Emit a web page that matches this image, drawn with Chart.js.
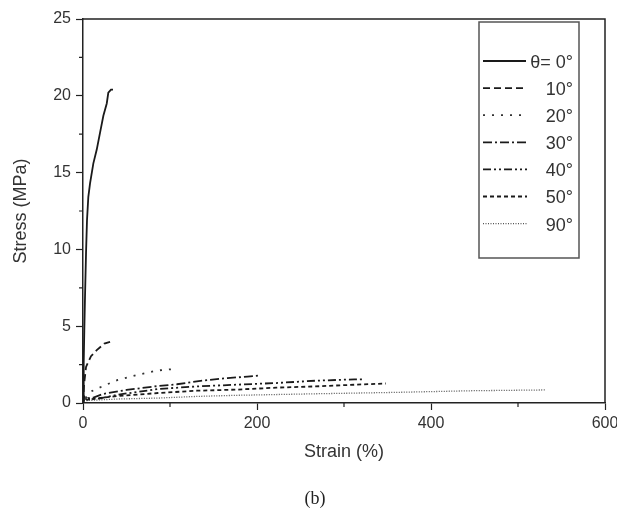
<!DOCTYPE html>
<html>
<head>
<meta charset="utf-8">
<script src="https://cdn.jsdelivr.net/npm/chart.js@4.4.1/dist/chart.umd.min.js"></script>
<style>
  body { margin: 0; background: #fff; }
</style>
</head>
<body>
<canvas id="stressChart" width="617" height="510"></canvas>
<script>
// stress-strain curves
const labels = ['θ= 0°', '10°', '20°', '30°', '40°', '50°', '90°'];

const strain0 = [0, 0.8, 1.5, 2.3, 3.5, 4.6, 6.1, 8.1, 11.9, 15.8, 19.6, 23.4, 27.3, 29.1, 32.2, 34.5];
const stress0 = [0, 2.6, 4.7, 6.9, 9.8, 11.9, 13.4, 14.3, 15.6, 16.5, 17.6, 18.7, 19.5, 20.2, 20.4, 20.4];

const strain10 = [0, 1.2, 3.5, 9.2, 15.8, 24.5, 31.1];
const stress10 = [0, 1.2, 2.35, 3.05, 3.44, 3.87, 3.98];

const strain20 = [0, 1, 4, 10, 22, 40, 63, 86, 108];
const stress20 = [0, 0.45, 0.35, 0.77, 1.08, 1.5, 1.84, 2.12, 2.23];

const strain30 = [0, 1, 3, 12, 23, 50, 81, 108, 135, 166, 189, 204];
const stress30 = [0, 0.45, 0.3, 0.35, 0.59, 0.85, 1.07, 1.22, 1.44, 1.62, 1.72, 1.79];

const strain40 = [0, 1, 5, 20, 40, 86, 131, 176, 222, 267, 312, 324];
const stress40 = [0, 0.4, 0.25, 0.3, 0.54, 0.91, 1.08, 1.19, 1.3, 1.45, 1.54, 1.54];

const strain50 = [0, 1, 5, 18, 40, 86, 131, 176, 222, 267, 312, 348];
const stress50 = [0, 0.35, 0.2, 0.32, 0.45, 0.65, 0.8, 0.87, 1.0, 1.08, 1.19, 1.27];

const strain90 = [0, 1, 40, 86, 131, 176, 267, 358, 448, 531];
const stress90 = [0, 0.15, 0.26, 0.32, 0.43, 0.5, 0.6, 0.69, 0.8, 0.85];

const xMinor = [100, 300, 500];
const yMinor = [2.5, 7.5, 12.5, 17.5, 22.5];

function pts(xs, ys) {
    return xs.map((x, i) => ({ x: x, y: ys[i] }));
}

const sansFont = '"Liberation Sans", Arial, sans-serif';

function makeSet(label, xs, ys, dash, color, width) {
    return {
        label: label,
        data: pts(xs, ys),
        showLine: true,
        borderColor: color,
        borderWidth: width,
        borderDash: dash,
        pointRadius: 0,
        tension: 0
    };
}

// frame on top/right plus the short minor ticks
const frameAndMinor = {
    id: 'frameAndMinor',
    afterDatasetsDraw(chart) {
        const ctx = chart.ctx;
        const a = chart.chartArea;
        const xs = chart.scales.x, ys = chart.scales.y;
        ctx.save();
        ctx.strokeStyle = '#222';
        ctx.lineWidth = 1.5;
        ctx.beginPath();
        ctx.moveTo(a.left, a.top);
        ctx.lineTo(a.right, a.top);
        ctx.lineTo(a.right, a.bottom);
        ctx.stroke();
        ctx.lineWidth = 1.2;
        ctx.beginPath();
        xMinor.forEach(v => {
            const px = xs.getPixelForValue(v);
            ctx.moveTo(px, a.bottom);
            ctx.lineTo(px, a.bottom + 4);
        });
        yMinor.forEach(v => {
            const py = ys.getPixelForValue(v);
            ctx.moveTo(a.left, py);
            ctx.lineTo(a.left - 4, py);
        });
        ctx.stroke();
        ctx.restore();
    }
};

const legendBox = {
    id: 'legendBox',
    afterDraw(chart) {
        const ctx = chart.ctx;
        ctx.save();
        ctx.strokeStyle = '#555';
        ctx.lineWidth = 1.5;
        ctx.strokeRect(479, 22, 100, 236);
        chart.data.datasets.forEach((ds, i) => {
            const y = 61 + i * 27.1;
            ctx.beginPath();
            ctx.setLineDash(ds.borderDash || []);
            ctx.lineWidth = ds.borderWidth;
            ctx.strokeStyle = ds.borderColor;
            ctx.moveTo(483, y);
            ctx.lineTo(i === 0 ? 526 : 527, y);
            ctx.stroke();
            ctx.setLineDash([]);
            ctx.fillStyle = '#333';
            ctx.font = '18px ' + sansFont;
            ctx.textAlign = 'right';
            ctx.textBaseline = 'middle';
            ctx.fillText(ds.label, 573, y + 2);
        });
        // panel caption
        ctx.fillStyle = '#222';
        ctx.font = '18px "Liberation Serif", "Times New Roman", serif';
        ctx.textAlign = 'center';
        ctx.textBaseline = 'middle';
        ctx.fillText('(b)', 315, 499);
        ctx.restore();
    }
};

const ctx = document.getElementById('stressChart').getContext('2d');

new Chart(ctx, {
    type: 'scatter',
    data: {
        datasets: [
            makeSet(labels[0], strain0, stress0, [], '#1a1a1a', 1.8),
            makeSet(labels[1], strain10, stress10, [7, 4], '#1a1a1a', 1.8),
            makeSet(labels[2], strain20, stress20, [2, 7], '#333', 1.8),
            makeSet(labels[3], strain30, stress30, [9, 3, 2, 3], '#1a1a1a', 1.8),
            makeSet(labels[4], strain40, stress40, [8, 3, 2, 3, 2, 3], '#1a1a1a', 1.8),
            makeSet(labels[5], strain50, stress50, [4, 3], '#1a1a1a', 1.8),
            makeSet(labels[6], strain90, stress90, [1, 1.5], '#555', 1.3)
        ]
    },
    options: {
        responsive: false,
        animation: false,
        layout: { padding: { left: 0, top: 19, right: 12, bottom: 35 } },
        plugins: {
            legend: { display: false },
            tooltip: { enabled: false }
        },
        scales: {
            x: {
                type: 'linear',
                min: 0,
                max: 600,
                afterFit: s => { s.height = 72; s.paddingLeft = 0; s.paddingRight = 0; },
                ticks: {
                    stepSize: 200,
                    padding: 4,
                    color: '#333',
                    font: { family: sansFont, size: 16 }
                },
                grid: {
                    drawOnChartArea: false,
                    drawTicks: true,
                    tickLength: 7,
                    tickWidth: 1.2,
                    tickColor: '#222'
                },
                border: { display: true, color: '#222', width: 1.5 },
                title: {
                    display: true,
                    text: 'Strain (%)',
                    color: '#333',
                    font: { family: sansFont, size: 18 },
                    padding: { top: 0, bottom: 12 }
                }
            },
            y: {
                type: 'linear',
                min: 0,
                max: 25,
                afterFit: s => { s.width = 83; },
                ticks: {
                    stepSize: 5,
                    padding: 5,
                    color: '#333',
                    font: { family: sansFont, size: 16 }
                },
                grid: {
                    drawOnChartArea: false,
                    drawTicks: true,
                    tickLength: 7,
                    tickWidth: 1.2,
                    tickColor: '#222'
                },
                border: { display: true, color: '#222', width: 1.5 },
                title: {
                    display: true,
                    text: 'Stress (MPa)',
                    color: '#333',
                    font: { family: sansFont, size: 18 },
                    padding: { top: 10, bottom: 0 }
                }
            }
        }
    },
    plugins: [frameAndMinor, legendBox]
});
</script>
</body>
</html>
